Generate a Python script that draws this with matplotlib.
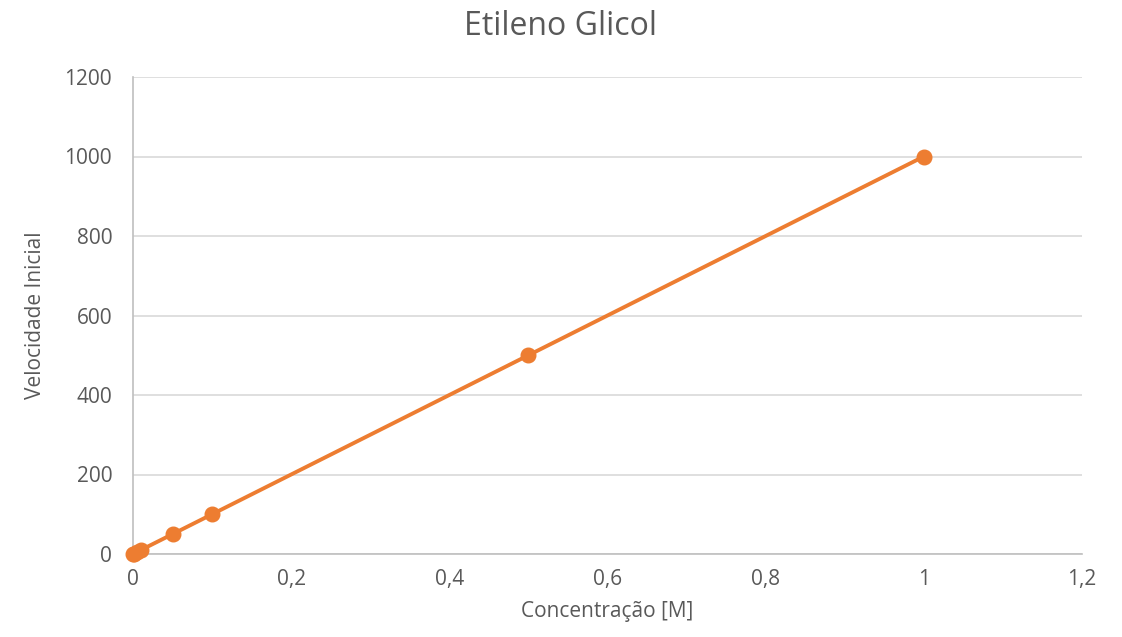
import matplotlib
matplotlib.use("Agg")
import matplotlib.pyplot as plt
from matplotlib.ticker import FuncFormatter

concentracao = [0.0, 0.001, 0.005, 0.01, 0.05, 0.1, 0.5, 1.0]
velocidade = [0, 1, 5, 10, 50, 100, 500, 1000]
x_ticks = [0, 0.2, 0.4, 0.6, 0.8, 1.0, 1.2]
y_ticks = [0, 200, 400, 600, 800, 1000, 1200]

plt.rcParams['font.family'] = ['Open Sans', 'DejaVu Sans']
text_c = '#595959'
orange = '#ED7D31'

fig = plt.figure(figsize=(11.22, 6.37), dpi=100)
ax = fig.add_axes([133/1122, 1-554/637, (1082-133)/1122, (554-77)/637])
ax.plot(concentracao, velocidade, color=orange, lw=2.8, marker='o', ms=10.5,
        solid_capstyle='round', zorder=3, clip_on=False)
ax.set_xlim(0, 1.2)
ax.set_ylim(0, 1200)
ax.set_xticks(x_ticks)
ax.set_yticks(y_ticks)
ax.xaxis.set_major_formatter(FuncFormatter(lambda v, p: ('%g' % round(v, 1)).replace('.', ',')))
ax.grid(axis='y', color='#D9D9D9', lw=1.2)
ax.set_axisbelow(True)
for s in ['top', 'right']:
    ax.spines[s].set_visible(False)
for s in ['left', 'bottom']:
    ax.spines[s].set_color('#BFBFBF')
    ax.spines[s].set_linewidth(1.2)
ax.tick_params(length=0, labelsize=15, colors=text_c)
ax.tick_params(axis='y', pad=15)
ax.tick_params(axis='x', pad=11)
ax.set_xlabel('Concentração [M]', fontsize=15, color=text_c, labelpad=8)
ax.set_ylabel('Velocidade Inicial', fontsize=15, color=text_c, labelpad=13)
fig.suptitle('Etileno Glicol', fontsize=23, color=text_c, y=0.985)
fig.savefig('out.png', dpi=100)
